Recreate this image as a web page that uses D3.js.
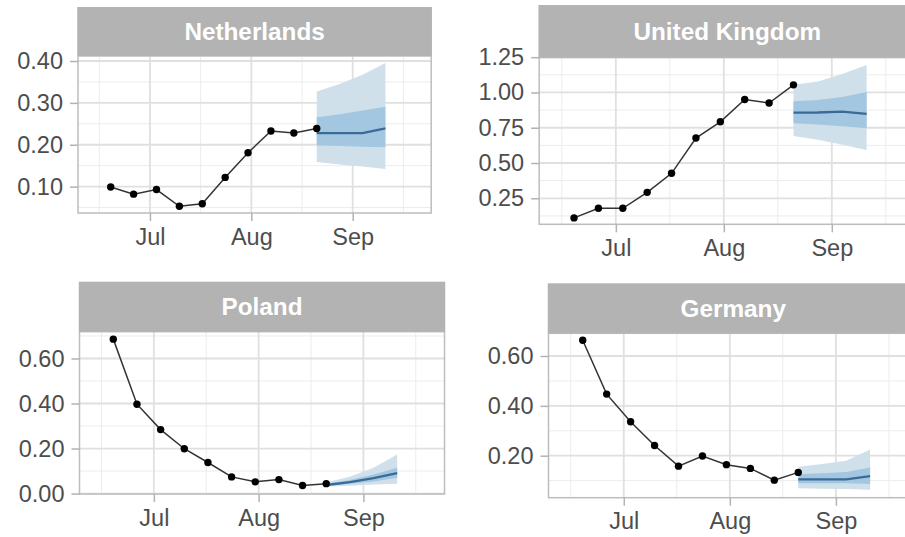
<!DOCTYPE html>
<html>
<head>
<meta charset="utf-8">
<script src="https://cdn.jsdelivr.net/npm/d3@7"></script>
<style>
  html, body { margin: 0; padding: 0; background: #ffffff; }
  svg { display: block; }
  text { font-family: "Liberation Sans", Arial, sans-serif; }
</style>
</head>
<body>
<svg id="chart" width="905" height="537"></svg>
<script>
// Weekly observations and four-week forecast, one small array per series.
const countries = ["Netherlands", "United Kingdom", "Poland", "Germany"];

const obsDates = ["2021-06-19", "2021-06-26", "2021-07-03", "2021-07-10", "2021-07-17",
                  "2021-07-24", "2021-07-31", "2021-08-07", "2021-08-14", "2021-08-21"];
const fcDates  = ["2021-08-21", "2021-08-28", "2021-09-04", "2021-09-11"];
const monthTicks = ["2021-07-01", "2021-08-01", "2021-09-01"];
const monthLabels = ["Jul", "Aug", "Sep"];

// Netherlands
const nlObs     = [0.099, 0.082, 0.093, 0.053, 0.059, 0.122, 0.181, 0.233, 0.228, 0.239];
const nlMedian  = [0.228, 0.228, 0.228, 0.239];
const nlInnerLo = [0.198, 0.197, 0.195, 0.194];
const nlInnerHi = [0.266, 0.273, 0.282, 0.291];
const nlOuterLo = [0.159, 0.153, 0.148, 0.142];
const nlOuterHi = [0.327, 0.345, 0.367, 0.395];
const nlTicks   = [0.10, 0.20, 0.30, 0.40];

// United Kingdom
const ukObs     = [0.111, 0.179, 0.179, 0.292, 0.427, 0.677, 0.792, 0.950, 0.925, 1.054];
const ukMedian  = [0.857, 0.858, 0.864, 0.848];
const ukInnerLo = [0.782, 0.772, 0.760, 0.746];
const ukInnerHi = [0.937, 0.947, 0.968, 1.004];
const ukOuterLo = [0.692, 0.665, 0.630, 0.593];
const ukOuterHi = [1.054, 1.077, 1.131, 1.195];
const ukTicks   = [0.25, 0.50, 0.75, 1.00, 1.25];

// Poland
const plObs     = [0.686, 0.397, 0.284, 0.199, 0.138, 0.074, 0.052, 0.062, 0.036, 0.044];
const plMedian  = [0.038, 0.051, 0.069, 0.091];
const plInnerLo = [0.034, 0.043, 0.054, 0.070];
const plInnerHi = [0.042, 0.060, 0.085, 0.115];
const plOuterLo = [0.031, 0.035, 0.040, 0.044];
const plOuterHi = [0.050, 0.075, 0.115, 0.173];
const plTicks   = [0.00, 0.20, 0.40, 0.60];

// Germany
const deObs     = [0.663, 0.447, 0.336, 0.241, 0.158, 0.199, 0.164, 0.149, 0.102, 0.133];
const deMedian  = [0.105, 0.105, 0.105, 0.118];
const deInnerLo = [0.089, 0.089, 0.089, 0.086];
const deInnerHi = [0.126, 0.130, 0.135, 0.153];
const deOuterLo = [0.069, 0.067, 0.066, 0.063];
const deOuterHi = [0.156, 0.167, 0.180, 0.225];
const deTicks   = [0.20, 0.40, 0.60];

// Shared date window of every facet
const xWindow = ["2021-06-09", "2021-09-25"];

// Facet boxes: strip top, panel top/bottom, left/right edges and y range
const layout = [
  { left: 78,    right: 431.2, stripTop: 7,     top: 56,    bottom: 213,   yDomain: [0.037, 0.412] },
  { left: 539.2, right: 915.4, stripTop: 5,     top: 57.6,  bottom: 224.3, yDomain: [0.0656, 1.247] },
  { left: 79.5,  right: 444.5, stripTop: 281.7, top: 331.7, bottom: 494,   yDomain: [-0.002, 0.719] },
  { left: 548.5, right: 918,   stripTop: 283.3, top: 333.3, bottom: 497.7, yDomain: [0.0315, 0.691] }
];

const series = [
  { obs: nlObs, med: nlMedian, iLo: nlInnerLo, iHi: nlInnerHi, oLo: nlOuterLo, oHi: nlOuterHi, ticks: nlTicks },
  { obs: ukObs, med: ukMedian, iLo: ukInnerLo, iHi: ukInnerHi, oLo: ukOuterLo, oHi: ukOuterHi, ticks: ukTicks },
  { obs: plObs, med: plMedian, iLo: plInnerLo, iHi: plInnerHi, oLo: plOuterLo, oHi: plOuterHi, ticks: plTicks },
  { obs: deObs, med: deMedian, iLo: deInnerLo, iHi: deInnerHi, oLo: deOuterLo, oHi: deOuterHi, ticks: deTicks }
];

const parse = d3.utcParse("%Y-%m-%d");
const obsT = obsDates.map(parse);
const fcT = fcDates.map(parse);
const majorT = monthTicks.map(parse);
const win = xWindow.map(parse);

const svg = d3.select("#chart");

const style = {
  strip: "#b3b3b3",
  border: "#bdbdbd",
  gridMajor: "#e0e0e0",
  gridMinor: "#ececec",
  tick: "#b3b3b3",
  axisText: "#4d4d4d",
  outer: "#cfe0eb",
  inner: "#a3c7e1",
  median: "#3b6b95",
  obsLine: "#333333"
};

countries.forEach((name, i) => {
  const box = layout[i];
  const s = series[i];
  const g = svg.append("g");

  const x = d3.scaleUtc().domain(win).range([box.left, box.right]);
  const y = d3.scaleLinear().domain(box.yDomain).range([box.bottom, box.top]);

  // Minor x breaks: midpoints between month breaks, plus half a step outside
  const minorT = [];
  const firstStep = majorT[1] - majorT[0];
  const lastStep = majorT[majorT.length - 1] - majorT[majorT.length - 2];
  minorT.push(new Date(+majorT[0] - firstStep / 2));
  for (let k = 0; k < majorT.length - 1; k++) {
    minorT.push(new Date((+majorT[k] + +majorT[k + 1]) / 2));
  }
  minorT.push(new Date(+majorT[majorT.length - 1] + lastStep / 2));

  // Minor y breaks: midpoints between numeric breaks, extended both ways
  const step = s.ticks[1] - s.ticks[0];
  const minorY = [];
  for (let v = s.ticks[0] - step / 2; v <= box.yDomain[1]; v += step) {
    if (v >= box.yDomain[0]) minorY.push(v);
  }

  // Panel background
  g.append("rect")
    .attr("x", box.left).attr("y", box.top)
    .attr("width", box.right - box.left).attr("height", box.bottom - box.top)
    .attr("fill", "#ffffff");

  const grid = g.append("g");
  grid.selectAll("line.minx").data(minorT).join("line")
    .attr("x1", d => x(d)).attr("x2", d => x(d))
    .attr("y1", box.top).attr("y2", box.bottom)
    .attr("stroke", style.gridMinor).attr("stroke-width", 1);
  grid.selectAll("line.miny").data(minorY).join("line")
    .attr("x1", box.left).attr("x2", box.right)
    .attr("y1", d => y(d)).attr("y2", d => y(d))
    .attr("stroke", style.gridMinor).attr("stroke-width", 1);
  grid.selectAll("line.majx").data(majorT).join("line")
    .attr("x1", d => x(d)).attr("x2", d => x(d))
    .attr("y1", box.top).attr("y2", box.bottom)
    .attr("stroke", style.gridMajor).attr("stroke-width", 1.8);
  grid.selectAll("line.majy").data(s.ticks.filter(v => v >= box.yDomain[0])).join("line")
    .attr("x1", box.left).attr("x2", box.right)
    .attr("y1", d => y(d)).attr("y2", d => y(d))
    .attr("stroke", style.gridMajor).attr("stroke-width", 1.8);

  // Forecast ribbons and median
  const fc = fcT.map((t, k) => ({ t, med: s.med[k], iLo: s.iLo[k], iHi: s.iHi[k], oLo: s.oLo[k], oHi: s.oHi[k] }));
  g.append("path").datum(fc)
    .attr("d", d3.area().x(d => x(d.t)).y0(d => y(d.oLo)).y1(d => y(d.oHi)))
    .attr("fill", style.outer);
  g.append("path").datum(fc)
    .attr("d", d3.area().x(d => x(d.t)).y0(d => y(d.iLo)).y1(d => y(d.iHi)))
    .attr("fill", style.inner);
  g.append("path").datum(fc)
    .attr("d", d3.line().x(d => x(d.t)).y(d => y(d.med)))
    .attr("fill", "none").attr("stroke", style.median).attr("stroke-width", 2.3);

  // Observed series
  const ob = obsT.map((t, k) => ({ t, v: s.obs[k] }));
  g.append("path").datum(ob)
    .attr("d", d3.line().x(d => x(d.t)).y(d => y(d.v)))
    .attr("fill", "none").attr("stroke", style.obsLine).attr("stroke-width", 1.5);
  g.selectAll("circle.pt").data(ob).join("circle")
    .attr("cx", d => x(d.t)).attr("cy", d => y(d.v)).attr("r", 3.7)
    .attr("fill", "#000000");

  // Panel border
  g.append("rect")
    .attr("x", box.left).attr("y", box.top)
    .attr("width", box.right - box.left).attr("height", box.bottom - box.top)
    .attr("fill", "none").attr("stroke", style.border).attr("stroke-width", 1.5);

  // Strip with facet title
  g.append("rect")
    .attr("x", box.left - 0.75).attr("y", box.stripTop)
    .attr("width", box.right - box.left + 1.5).attr("height", box.top - box.stripTop)
    .attr("fill", style.strip);
  g.append("text")
    .attr("x", (box.left + box.right) / 2)
    .attr("y", (box.stripTop + box.top) / 2)
    .attr("dy", "0.36em")
    .attr("text-anchor", "middle")
    .attr("fill", "#ffffff")
    .attr("font-weight", "bold")
    .attr("font-size", "24.3px")
    .text(name);

  // Axes
  const yAxis = d3.axisLeft(y)
    .tickValues(s.ticks.filter(v => v >= box.yDomain[0]))
    .tickFormat(d3.format(".2f"))
    .tickSize(8).tickPadding(7);
  const ya = g.append("g").attr("transform", `translate(${box.left},0)`).call(yAxis);
  ya.select(".domain").remove();
  ya.selectAll(".tick line").attr("stroke", style.tick).attr("stroke-width", 1.5);
  ya.selectAll(".tick text").attr("fill", style.axisText)
    .attr("font-size", "23.5px").attr("font-family", "Liberation Sans, Arial, sans-serif");

  const xAxis = d3.axisBottom(x)
    .tickValues(majorT)
    .tickFormat((d, k) => monthLabels[k])
    .tickSize(8).tickPadding(7);
  const xa = g.append("g").attr("transform", `translate(0,${box.bottom})`).call(xAxis);
  xa.select(".domain").remove();
  xa.selectAll(".tick line").attr("stroke", style.tick).attr("stroke-width", 1.5);
  xa.selectAll(".tick text").attr("fill", style.axisText)
    .attr("font-size", "23.5px").attr("font-family", "Liberation Sans, Arial, sans-serif");
});
</script>
</body>
</html>
